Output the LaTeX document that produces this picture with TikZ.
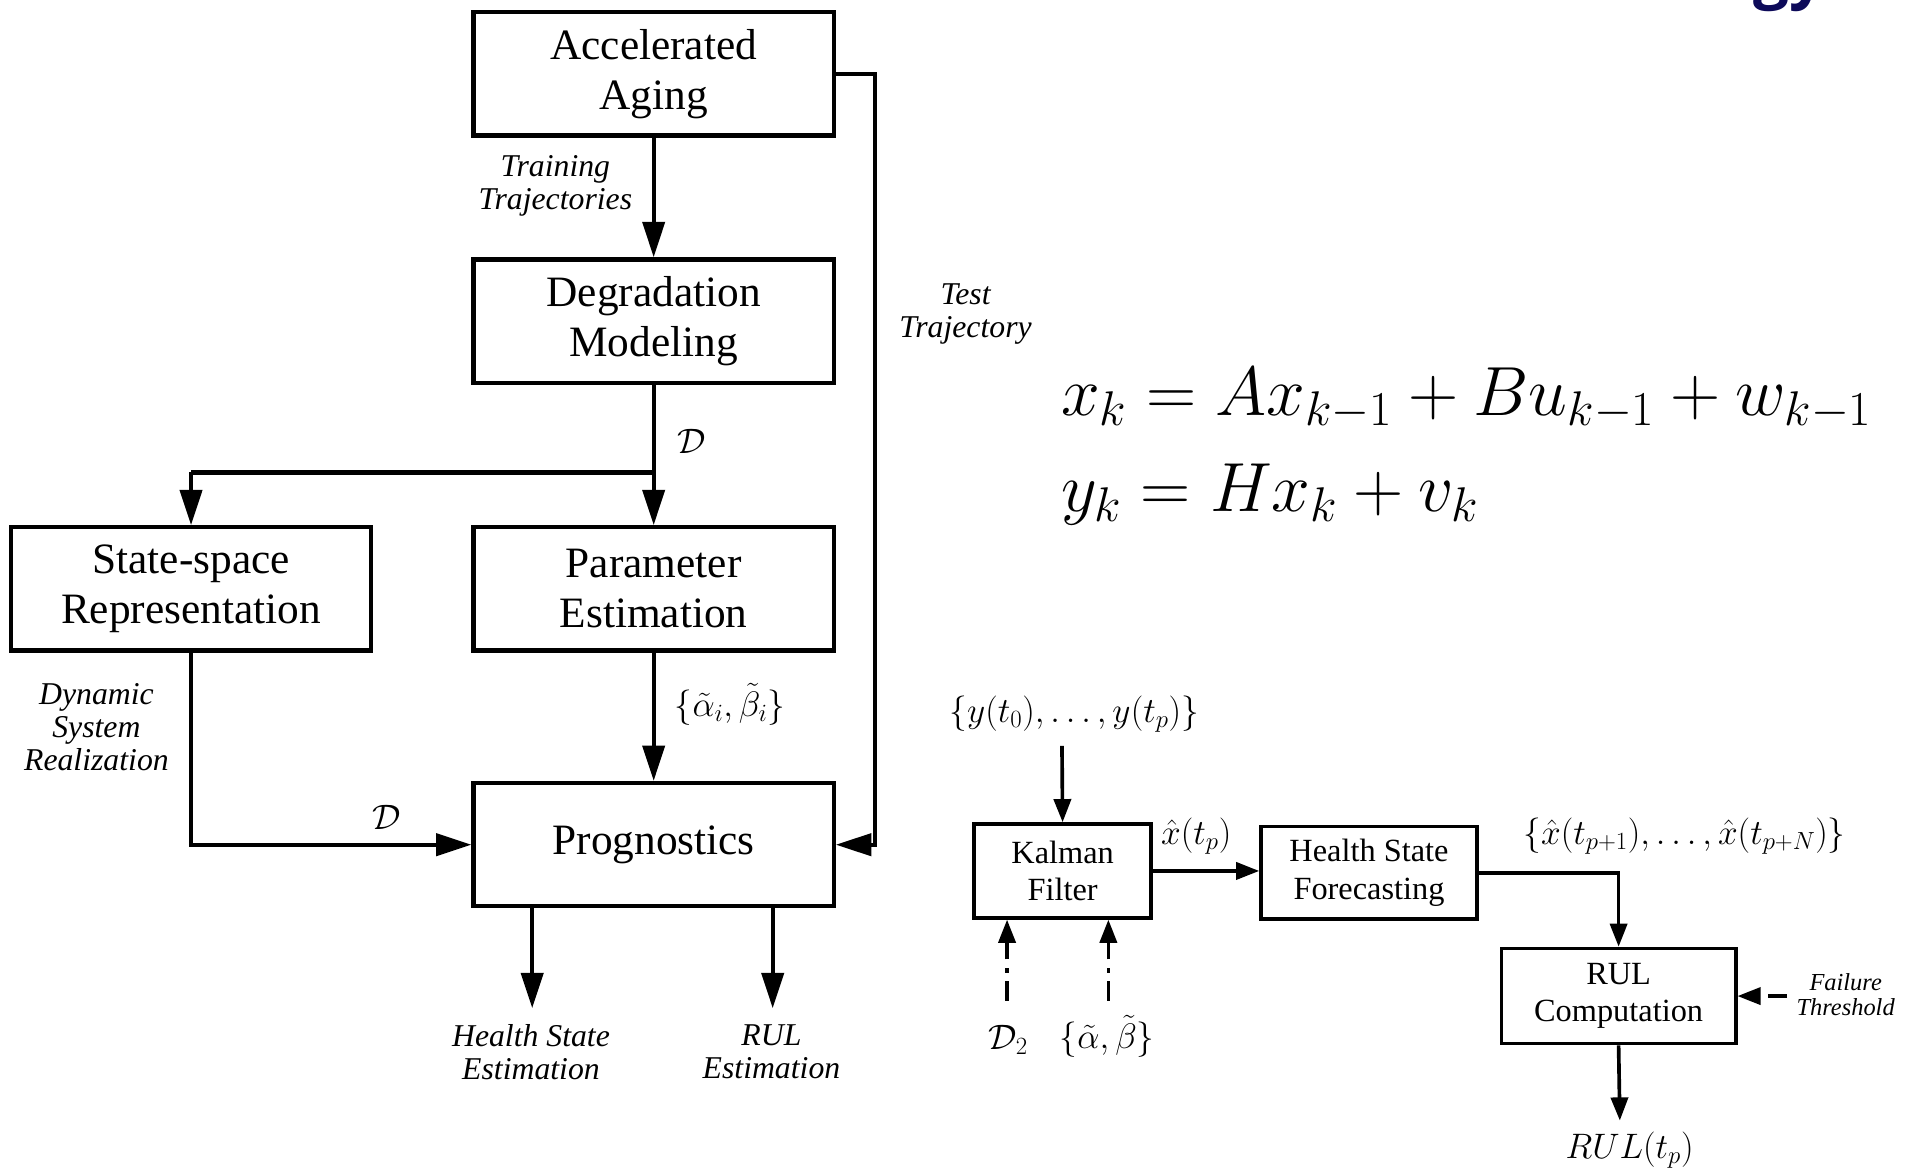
\RequirePackage{fix-cm}
\documentclass[tikz,border=0pt]{standalone}
\usepackage[no-math]{fontspec}
\setmainfont{Liberation Serif}
\newfontfamily\titlefont{Open Sans}
\usetikzlibrary{arrows.meta,calc}
\definecolor{titleblue}{RGB}{13,10,89}
\begin{document}
\begin{tikzpicture}[x=1pt,y=-1pt,
  bigbox/.style={draw, line width=3.5pt, minimum width=295pt, minimum height=101pt, inner sep=0pt, align=center, font=\fontsize{35.5}{41}\selectfont},
  smallbox/.style={draw, line width=2.8pt, inner sep=0pt, align=center, font=\fontsize{26.5}{30.5}\selectfont},
  arr/.style={line width=3.5pt, -{Triangle[length=29pt,width=18pt]}},
  sarr/.style={line width=3pt, -{Triangle[length=19pt,width=14pt]}},
  lbl/.style={font=\fontsize{26}{27}\selectfont\itshape, align=center, inner sep=0pt},
  mlbl/.style={font=\fontsize{29}{32}\selectfont, inner sep=0pt},
  eqn/.style={font=\fontsize{57}{62}\selectfont, inner sep=0pt, anchor=base west}
]
\clip (0,0) rectangle (1568,958);

% slide title remnant
\node[anchor=base east, inner sep=0pt, text=titleblue, font=\titlefont\bfseries\fontsize{52}{52}\selectfont] (gy) at (1496,-3) {gy};

% left diagram boxes
\node[bigbox] (acc) at (535.5,60.5) {Accelerated\\Aging};
\node[bigbox] (deg) at (535.5,263) {Degradation\\Modeling};
\node[bigbox] (ss) at (156.5,482.5) {State-space\\Representation};
\node[bigbox] (pe) at (535.5,482.5) {Parameter\\Estimation};
\node[bigbox] (prog) at (535.5,692) {Prognostics};

% left labels
\node[lbl] (trn) at (455,152) {Training\\Trajectories};
\node[mlbl] (dlab1) at (567,362) {$\mathcal{D}$};
\node[mlbl] (ablab) at (598,577) {$\{\tilde\alpha_i,\tilde\beta_i\}$};
\node[mlbl] (dlab2) at (317,670) {$\mathcal{D}$};
\node[lbl] (dsr) at (79,596) {Dynamic\\System\\Realization};
\node[lbl] (tt) at (791,257) {Test\\Trajectory};
\node[lbl] (hse) at (435,862) {Health State\\Estimation};
\node[lbl] (rule) at (632,862) {RUL\\Estimation};

\coordinate (br) at (536,387);
\coordinate (tcorner) at (717,692);
\coordinate (hsep) at (436,826);
\coordinate (rulep) at (633,826);

% left connectors
\draw[arr] (acc.south) -- (deg.north);
\draw[arr] (deg.south) -- (pe.north);
\draw[line width=3.5pt] (br) -- (br -| ss.north);
\draw[arr] (br -| ss.north) -- (ss.north);
\draw[arr] (pe.south) -- (prog.north);
\draw[arr] (ss.south) |- (prog.west);
\draw[arr] (acc.east) -| (tcorner) -- (prog.east);
\draw[arr] (prog.south -| hsep) -- (hsep);
\draw[arr] (prog.south -| rulep) -- (rulep);

% equations
\node[eqn] (eq1) at (869,340) {$x_k = Ax_{k-1} + Bu_{k-1} + w_{k-1}$};
\node[eqn] (eq2) at (869,419) {$y_k = Hx_k + v_k$};

% right diagram
\node[smallbox, minimum width=145pt, minimum height=77pt] (kf) at (870.5,713.5) {Kalman\\Filter};
\node[smallbox, minimum width=177pt, minimum height=76pt] (hsf) at (1121.5,715) {Health State\\Forecasting};
\node[smallbox, minimum width=192pt, minimum height=78pt] (rulc) at (1326,816) {RUL\\Computation};

\node[mlbl] (ys) at (880,585) {$\{y(t_0),\ldots,y(t_p)\}$};
\node[mlbl] (xh) at (980,685) {$\hat x(t_p)$};
\node[mlbl] (xs) at (1380,685) {$\{\hat x(t_{p+1}),\ldots,\hat x(t_{p+N})\}$};
\node[lbl, font=\fontsize{20}{20.5}\selectfont\itshape] (ft) at (1512,815) {Failure\\Threshold};
\node[mlbl] (rt) at (1335,942) {$RUL(t_p)$};
\node[mlbl] (d2l) at (826,852) {$\mathcal{D}_2$};
\node[mlbl] (abl) at (907,849) {$\{\tilde\alpha,\tilde\beta\}$};

\coordinate (yin) at (870,611);
\coordinate (fts) at (1464,816);
\coordinate (rto) at (1327,918);
\coordinate (d2s) at (825,820);
\coordinate (abs) at (908,820);

\draw[sarr] (yin) -- (kf.north);
\draw[sarr] (kf.east) -- (kf.east -| hsf.west);
\draw[sarr] (hsf.east) -| (rulc.north);
\draw[sarr] (rulc.south) -- (rto);
\draw[sarr, dash pattern=on 16pt off 30pt] (fts) -- (rulc.east);
\draw[sarr, dash pattern=on 16pt off 7pt on 4pt off 7pt] (d2s) -- (d2s |- kf.south);
\draw[sarr, dash pattern=on 16pt off 7pt on 4pt off 7pt] (abs) -- (abs |- kf.south);
\end{tikzpicture}
\end{document}
